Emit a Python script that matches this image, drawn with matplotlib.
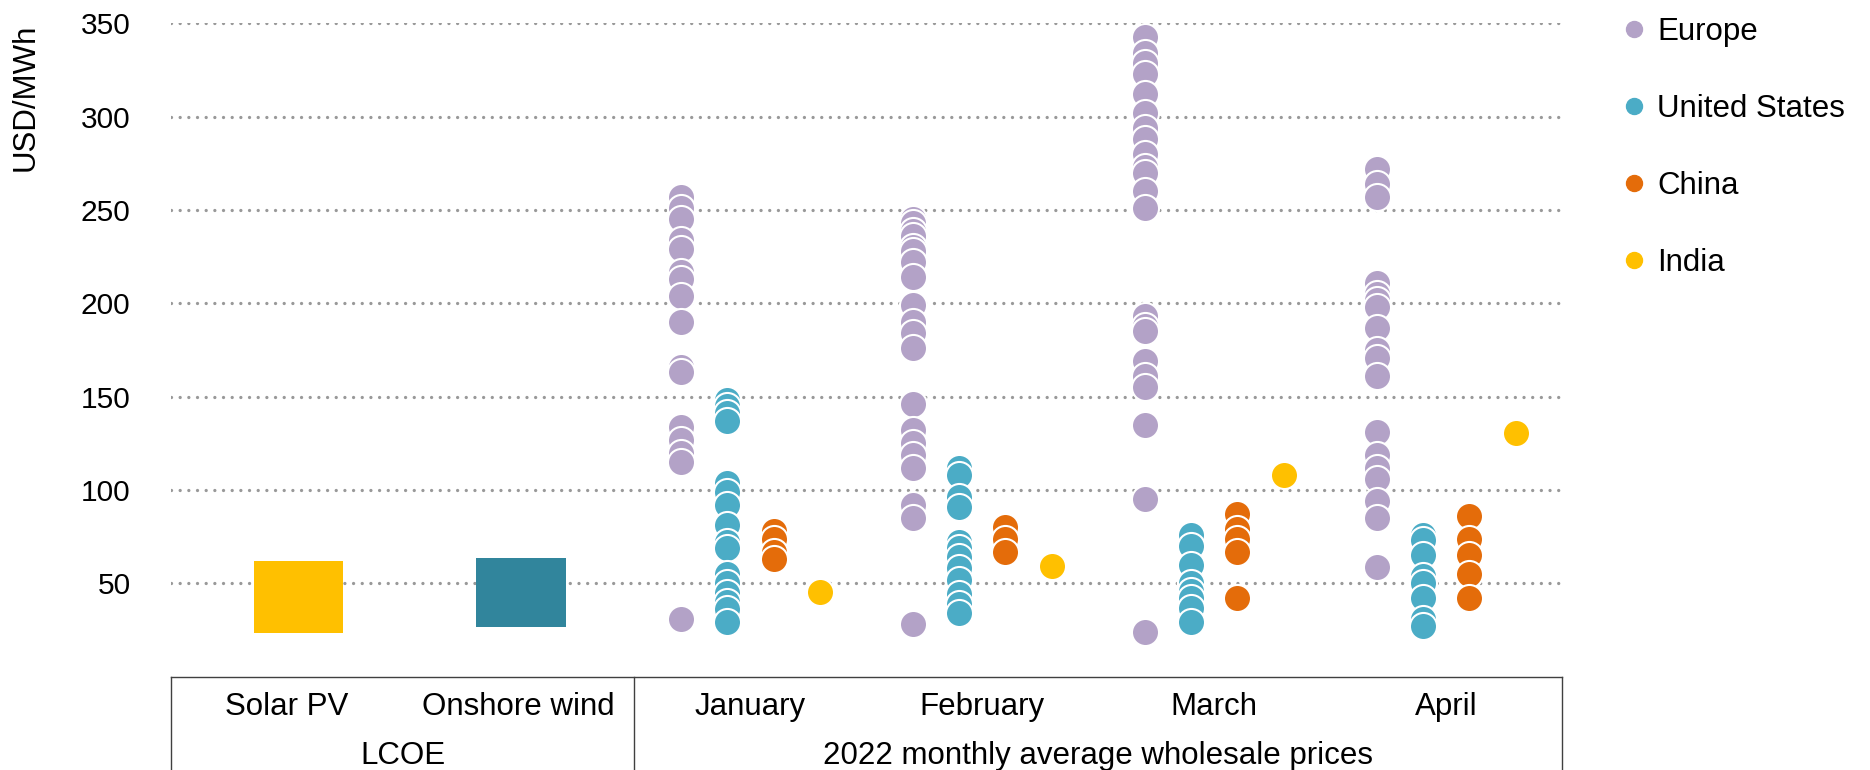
import matplotlib
matplotlib.use("Agg")
import matplotlib.pyplot as plt
from matplotlib.lines import Line2D
import matplotlib.transforms as mtransforms

plt.rcParams['font.family'] = ['Liberation Sans', 'DejaVu Sans']

# categories on the x axis
lcoe_labels = ['Solar PV', 'Onshore wind']
months = ['January', 'February', 'March', 'April']
group_labels = ['LCOE', '2022 monthly average wholesale prices']

# LCOE ranges (USD/MWh)
lcoe_low = [23.5, 26.6]
lcoe_high = [62, 63.6]

# monthly average wholesale prices, one list per month
europe = [
    [257, 251, 245, 234, 229, 217, 213, 204, 190, 166, 163, 134, 127, 120, 115, 31],
    [245, 243, 239, 236, 230, 228, 222, 214, 199, 190, 184, 176, 146, 132, 125, 119, 112, 92, 85, 28],
    [343, 334, 329, 323, 312, 302, 294, 288, 280, 273, 270, 260, 251, 193, 188, 185, 169, 161, 155, 135, 95, 24],
    [272, 264, 257, 211, 205, 202, 198, 187, 175, 171, 161, 131, 119, 112, 106, 94, 85, 59],
]
united_states = [
    [148, 145, 141, 137, 104, 99, 92, 81, 72, 69, 55, 50, 45, 40, 36, 29],
    [112, 108, 96, 91, 72, 69, 64, 58, 52, 44, 39, 34],
    [76, 70, 60, 50, 46, 42, 37, 29],
    [76, 73, 65, 54, 50, 42, 31, 27],
]
china = [
    [78, 74, 67, 63],
    [80, 74, 67],
    [87, 79, 74, 67, 42],
    [86, 74, 65, 55, 42],
]
india = [[45.5], [59.3], [108], [130.4]]

regions = ['Europe', 'United States', 'China', 'India']
region_data = [europe, united_states, china, india]
region_colors = ['#B3A2C7', '#4BACC6', '#E46C0A', '#FFC000']
region_offsets = [-0.3, -0.1, 0.1, 0.3]
bar_colors = ['#FFC000', '#31859C']
bar_shift = [0.05, 0.01]

FS = 22.5

fig = plt.figure(figsize=(18.7, 7.7), dpi=100)
ax = fig.add_axes([0.0913, 0.1213, 0.744, 0.8482])

# LCOE floating bars
for i in range(len(lcoe_labels)):
    ax.bar(i + bar_shift[i], lcoe_high[i] - lcoe_low[i], bottom=lcoe_low[i],
           width=0.385, color=bar_colors[i], zorder=2)

# scatter of monthly prices
for data, color, off in zip(region_data, region_colors, region_offsets):
    for m, vals in enumerate(data):
        vals = sorted(vals, reverse=True)
        x = [len(lcoe_labels) + m + off] * len(vals)
        ax.scatter(x, vals, s=380, color=color, edgecolors='white',
                   linewidths=1.5, zorder=3)

ncat = len(lcoe_labels) + len(months)
ax.set_xlim(-0.5, ncat - 0.5)
ax.set_ylim(0, 350)
ax.set_yticks(range(50, 351, 50))
ax.tick_params(axis='y', length=0, pad=29, labelsize=21.5)
ax.set_xticks(range(ncat))
ax.set_xticklabels(lcoe_labels + months, fontsize=FS)
ax.tick_params(axis='x', length=0, pad=11)

ax.yaxis.grid(True, color='#999999', linewidth=2.4,
              linestyle=(0, (0.001, 2.6)), dash_capstyle='round', zorder=0)
ax.set_axisbelow(True)
for s in ['left', 'top', 'right']:
    ax.spines[s].set_visible(False)
ax.spines['bottom'].set_color('#404040')
ax.spines['bottom'].set_linewidth(1)

# group labels and separators under the axis
trans = mtransforms.blended_transform_factory(ax.transData, ax.transAxes)
for xs in [-0.5, len(lcoe_labels) - 0.5, ncat - 0.5]:
    ax.plot([xs, xs], [0, -0.15], transform=trans, color='#404040',
            linewidth=1, clip_on=False)
ax.text((len(lcoe_labels) - 1) / 2, -0.121, group_labels[0], transform=trans,
        ha='center', va='center', fontsize=FS)
ax.text(len(lcoe_labels) + (len(months) - 1) / 2, -0.121, group_labels[1],
        transform=trans, ha='center', va='center', fontsize=FS)

fig.text(26 / 1870, 1 - 97 / 770, 'USD/MWh', rotation=90, ha='center',
         va='center', fontsize=FS)

handles = [Line2D([], [], marker='o', linestyle='none', markersize=11.5,
                  markerfacecolor=c, markeredgecolor=c) for c in region_colors]
fig.legend(handles, regions, loc='upper left',
           bbox_to_anchor=(1626 / 1870, 0.978), frameon=False, fontsize=FS,
           handlelength=0.5, handletextpad=0.5, labelspacing=1.5,
           borderpad=0, borderaxespad=0)

fig.savefig('out.png', dpi=100)
